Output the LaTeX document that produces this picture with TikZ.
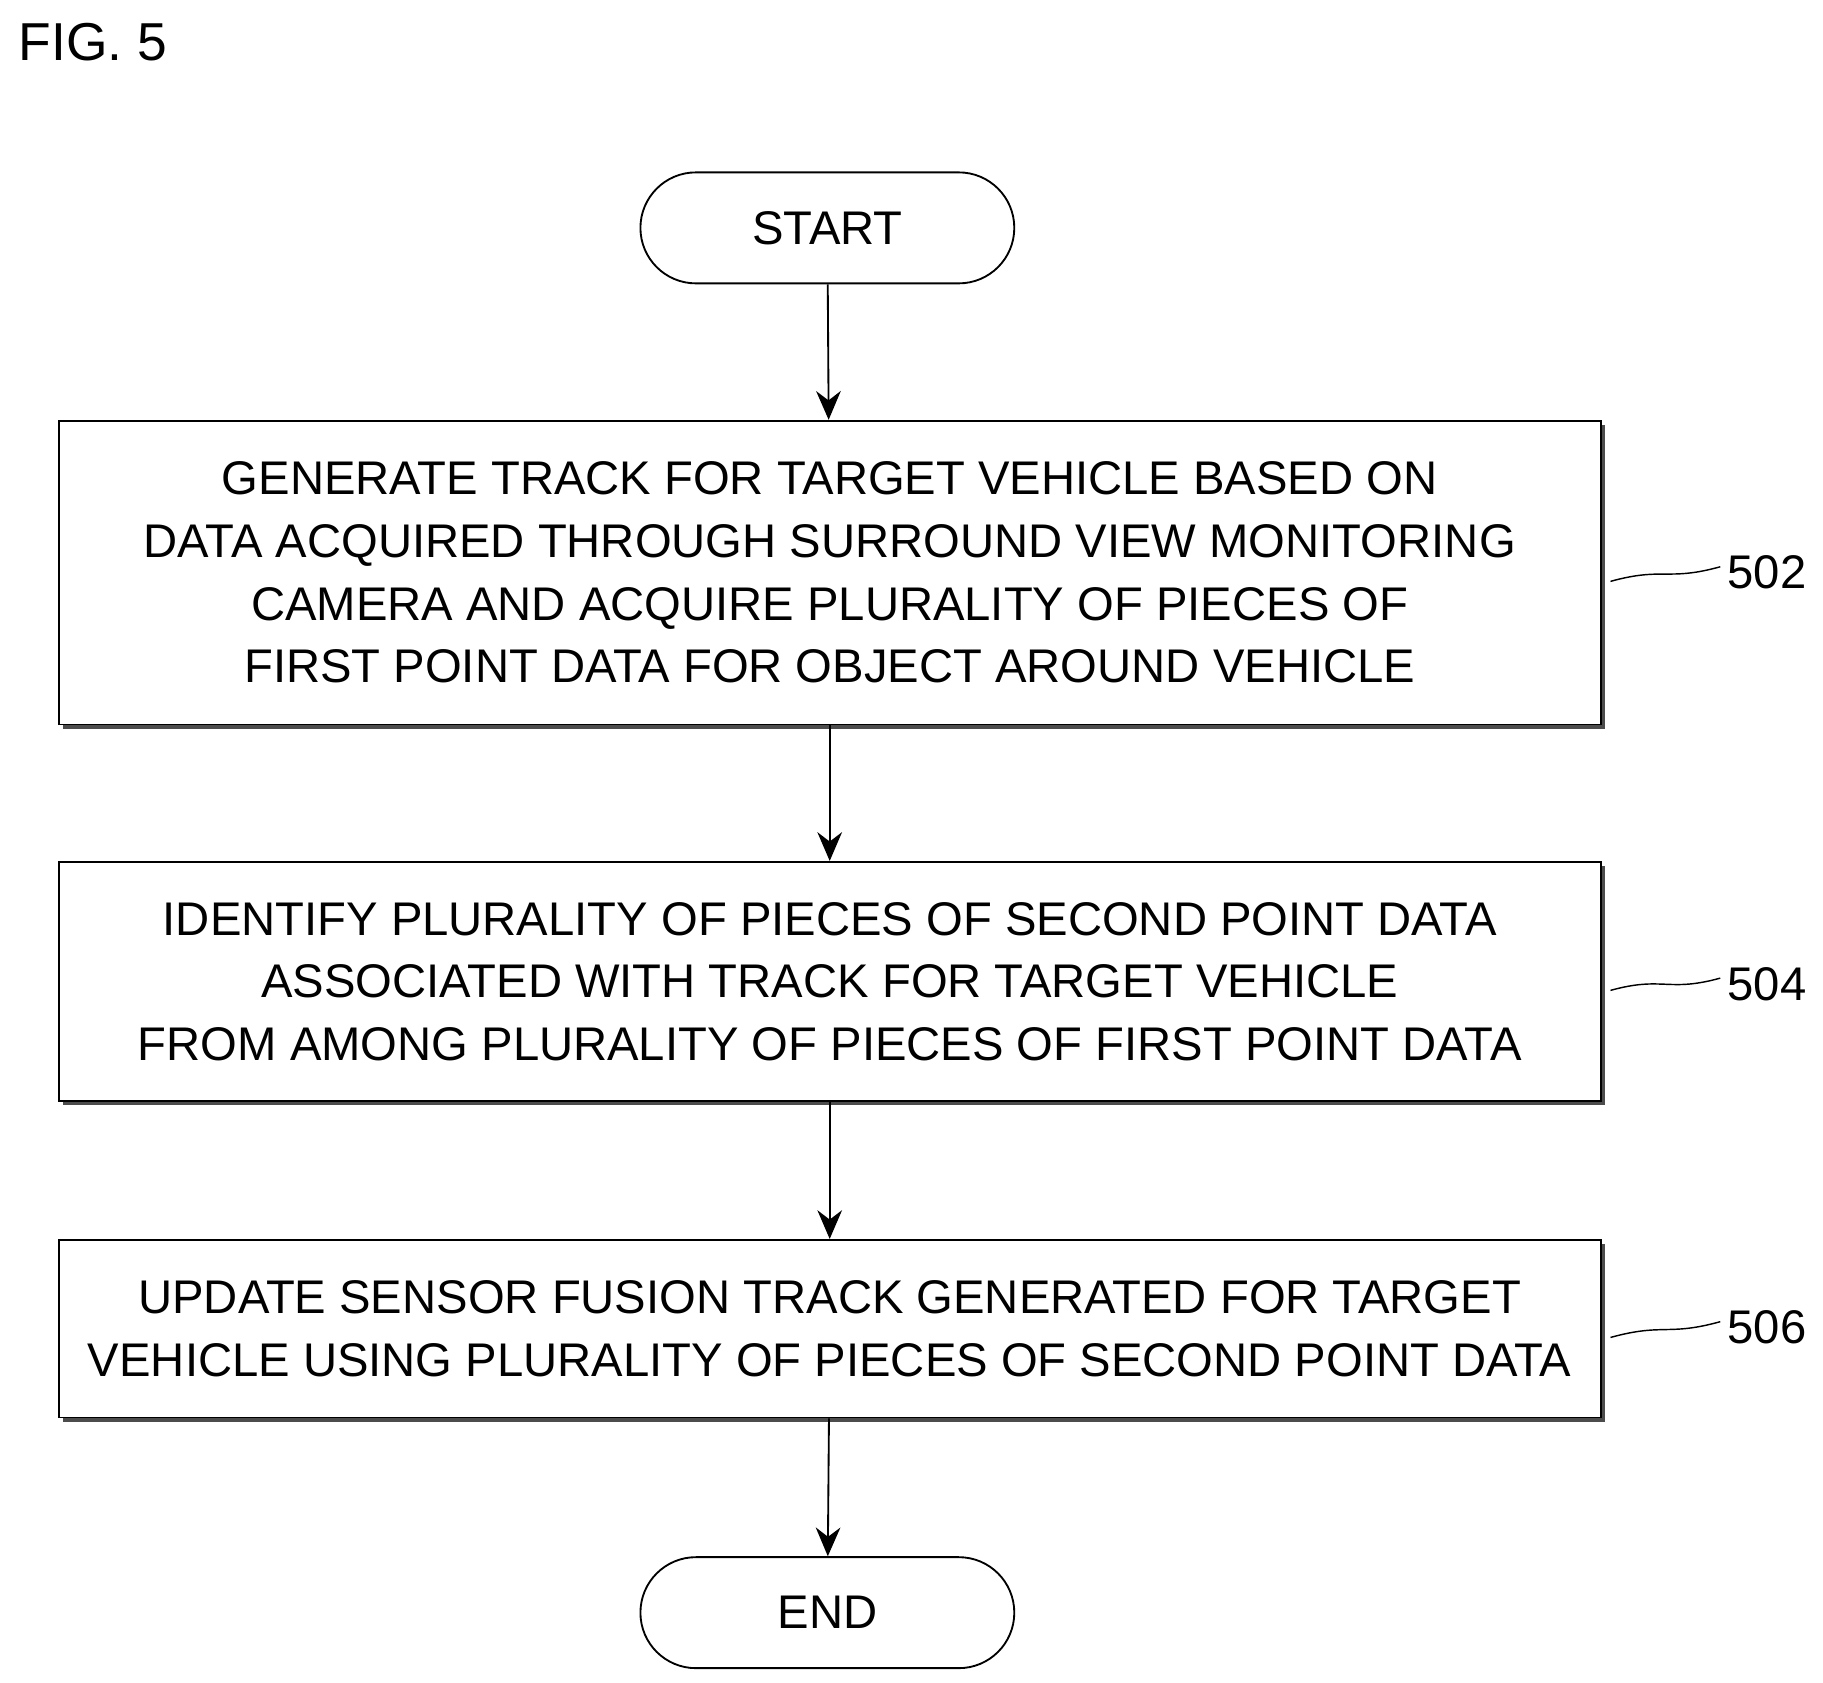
\documentclass[tikz,border=0pt]{standalone}
\usepackage{fontspec}
\setmainfont{Liberation Sans}
\usetikzlibrary{shadows,arrows.meta}
\begin{document}
\begin{tikzpicture}[x=0.02cm,y=-0.02cm,
  txt/.style={font=\fontsize{23}{30.5}\selectfont, align=center},
  box/.style={draw, line width=0.9pt, fill=white, minimum width=26.4cm, txt,
    drop shadow={shadow xshift=2pt, shadow yshift=-2pt, fill=black!70, opacity=1}},
  term/.style={draw, line width=0.9pt, rounded corners=0.95cm, minimum width=6.4cm, minimum height=1.9cm, txt},
  arr/.style={-{Stealth[length=14pt,width=12pt]}, line width=0.9pt},
  lbl/.style={font=\fontsize{23}{28}\selectfont}]
\useasboundingbox (0,0) rectangle (1560,1440);
\node[anchor=north west, font=\fontsize{26}{30}\selectfont] (fig) at (10,14) {FIG. 5};
\node[term] (start) at (708,195) {START};
\node[box, minimum height=5.2cm] (b1) at (710,490) {GENERATE TRACK FOR TARGET VEHICLE BASED ON\\DATA ACQUIRED THROUGH SURROUND VIEW MONITORING\\CAMERA AND ACQUIRE PLURALITY OF PIECES OF\\FIRST POINT DATA FOR OBJECT AROUND VEHICLE};
\node[box, minimum height=4.1cm] (b2) at (710,840) {IDENTIFY PLURALITY OF PIECES OF SECOND POINT DATA\\ASSOCIATED WITH TRACK FOR TARGET VEHICLE\\FROM AMONG PLURALITY OF PIECES OF FIRST POINT DATA};
\node[box, minimum height=3.04cm] (b3) at (710,1137) {UPDATE SENSOR FUSION TRACK GENERATED FOR TARGET\\VEHICLE USING PLURALITY OF PIECES OF SECOND POINT DATA};
\node[term] (end) at (708,1380) {END};
\node[lbl] (n502) at (1512,490) {502};
\node[lbl] (n504) at (1512,842) {504};
\node[lbl] (n506) at (1512,1136) {506};
\draw[arr] (start) -- (b1);
\draw[arr] (b1) -- (b2);
\draw[arr] (b2) -- (b3);
\draw[arr] (b3) -- (end);
\foreach \b/\n in {b1/n502,b2/n504,b3/n506}
  \draw[line width=0.7pt] ([xshift=0.15cm,yshift=-0.15cm]\b.east) .. controls +(0.9cm,0.25cm) and +(-0.9cm,-0.25cm) .. ([yshift=0.1cm]\n.west);
\end{tikzpicture}
\end{document}
